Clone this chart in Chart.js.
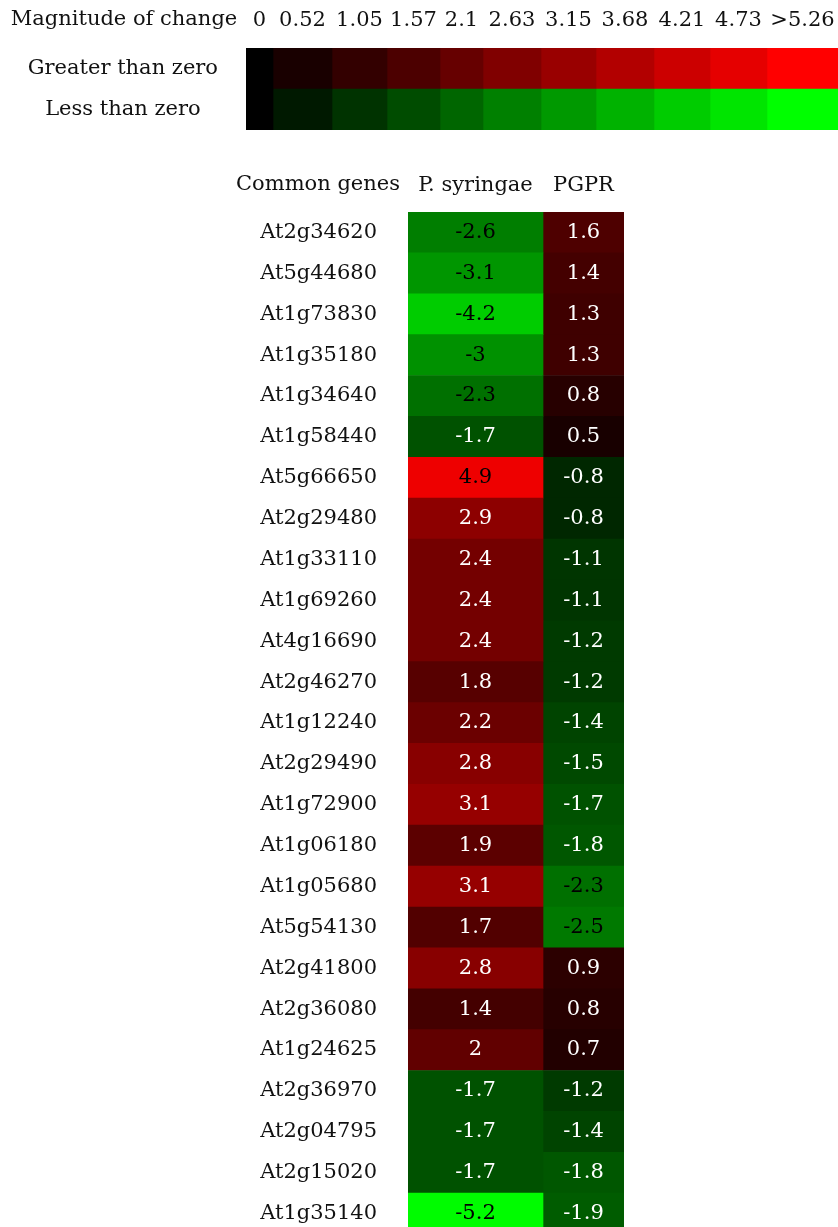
<!DOCTYPE html>
<html>
<head>
<meta charset="utf-8">
<script src="https://cdn.jsdelivr.net/npm/chart.js@4"></script>
<style>
	html, body { margin: 0; padding: 0; background: #fff; overflow: hidden; }
	#legendWrap { position: absolute; left: 0; top: 0; width: 838px; height: 140px; }
	#heatWrap { position: absolute; left: 0; top: 140px; width: 838px; height: 1094px; }
</style>
</head>
<body>
<div id="legendWrap"><canvas id="legendChart"></canvas></div>
<div id="heatWrap"><canvas id="heatChart"></canvas></div>
<script>
"use strict";

// data
const genes = [
	"At2g34620", "At5g44680", "At1g73830", "At1g35180", "At1g34640",
	"At1g58440", "At5g66650", "At2g29480", "At1g33110", "At1g69260",
	"At4g16690", "At2g46270", "At1g12240", "At2g29490", "At1g72900",
	"At1g06180", "At1g05680", "At5g54130", "At2g41800", "At2g36080",
	"At1g24625", "At2g36970", "At2g04795", "At2g15020", "At1g35140",
];
const syringae = [
	-2.6, -3.1, -4.2, -3, -2.3, -1.7, 4.9, 2.9, 2.4, 2.4, 2.4, 1.8, 2.2,
	2.8, 3.1, 1.9, 3.1, 1.7, 2.8, 1.4, 2, -1.7, -1.7, -1.7, -5.2,
];
const pgpr = [
	1.6, 1.4, 1.3, 1.3, 0.8, 0.5, -0.8, -0.8, -1.1, -1.1, -1.2, -1.2, -1.4,
	-1.5, -1.7, -1.8, -2.3, -2.5, 0.9, 0.8, 0.7, -1.2, -1.4, -1.8, -1.9,
];
const columns = ["P. syringae", "PGPR"];
const legendSteps = [0, 0.52, 1.05, 1.57, 2.1, 2.63, 3.15, 3.68, 4.21, 4.73, 5.26];
const legendTicks = ["0", "0.52", "1.05", "1.57", "2.1", "2.63", "3.15", "3.68", "4.21", "4.73", ">5.26"];
const legendRows = ["Greater than zero", "Less than zero"];

// layout / style
const maxChange = 5.26;
const FONT = "'DejaVu Serif', Georgia, serif";
const FSIZE = 21;
const legendWidths = [27, 59, 55, 53, 43, 58, 55, 58, 56, 57, 71];
const columnWidths = [135, 81];

Chart.defaults.font.family = FONT;
Chart.defaults.font.size = FSIZE;
Chart.defaults.color = "#111";
Chart.defaults.animation = false;

function changeColor(v) {
	const c = Math.round(Math.min(1, Math.abs(v) / maxChange) * 255);
	return v >= 0 ? `rgb(${c},0,0)` : `rgb(0,${c},0)`;
}

function textColor(v) {
	const c = Math.min(1, Math.abs(v) / maxChange) * 255;
	const lum = v >= 0 ? 0.299 * c : 0.587 * c;
	return lum > 58 ? "#000" : "#fff";
}

function centers(widths) {
	let acc = 0;
	return widths.map((w) => {
		const c = acc + w / 2;
		acc += w;
		return c;
	});
}

const sum = (a) => a.reduce((s, v) => s + v, 0);

// label column keeps its width, no extra top/bottom padding
const fitLabelAxis = (w) => (scale) => {
	scale.width = w;
	scale.paddingTop = 0;
	scale.paddingBottom = 0;
};

// header row keeps its height, cells run edge to edge
const fitHeaderAxis = (h) => (scale) => {
	scale.height = h;
	scale.paddingLeft = 0;
	scale.paddingRight = 0;
};

// small plugin: corner title + cell values
const cornerTitle = {
	id: "cornerTitle",
	afterDraw(chart, args, opts) {
		const { ctx, scales } = chart;
		const y = scales.y;
		const x = scales.x;
		ctx.save();
		ctx.font = `${FSIZE}px ${FONT}`;
		ctx.fillStyle = "#111";
		ctx.textAlign = "center";
		ctx.textBaseline = "middle";
		ctx.fillText(opts.text, (y.left + y.right) / 2 + opts.dx, x.bottom - opts.offset);
		ctx.restore();
	},
};

const cellValues = {
	id: "cellValues",
	afterDatasetsDraw(chart) {
		const { ctx } = chart;
		ctx.save();
		ctx.font = `${FSIZE}px ${FONT}`;
		ctx.textAlign = "center";
		ctx.textBaseline = "middle";
		chart.data.datasets.forEach((ds, di) => {
			chart.getDatasetMeta(di).data.forEach((bar, i) => {
				const v = ds.values[i];
				const p = bar.getProps(["x", "y", "base"], true);
				ctx.fillStyle = textColor(v);
				ctx.fillText(String(v), (p.x + p.base) / 2, p.y);
			});
		});
		ctx.restore();
	},
};

// legend chart
const legendCenters = centers(legendWidths);
new Chart(document.getElementById("legendChart"), {
	type: "bar",
	data: {
		labels: legendRows,
		datasets: legendSteps.map((s, i) => ({
			data: [legendWidths[i], legendWidths[i]],
			backgroundColor: [changeColor(s), changeColor(-s)],
			borderWidth: 0,
			categoryPercentage: 1,
			barPercentage: 1,
		})),
	},
	options: {
		indexAxis: "y",
		responsive: true,
		maintainAspectRatio: false,
		layout: { padding: { left: 0, right: 0, top: 0, bottom: 10 } },
		plugins: {
			legend: { display: false },
			tooltip: { enabled: false },
			cornerTitle: { text: "Magnitude of change", offset: 28, dx: 1 },
		},
		scales: {
			x: {
				type: "linear",
				position: "top",
				stacked: true,
				min: 0,
				max: sum(legendWidths),
				grid: { display: false, drawTicks: false },
				border: { display: false },
				afterBuildTicks: (scale) => {
					scale.ticks = legendCenters.map((v) => ({ value: v }));
				},
				afterFit: fitHeaderAxis(48),
				ticks: {
					autoSkip: false,
					maxRotation: 0,
					padding: 15,
					callback: (value, index) => legendTicks[index],
				},
			},
			y: {
				stacked: true,
				grid: { display: false, drawTicks: false },
				border: { display: false },
				afterFit: fitLabelAxis(246),
				ticks: { crossAlign: "center", autoSkip: false, padding: 28 },
			},
		},
	},
	plugins: [cornerTitle],
});

// heatmap chart
const colCenters = centers(columnWidths);
const colValues = [syringae, pgpr];
new Chart(document.getElementById("heatChart"), {
	type: "bar",
	data: {
		labels: genes,
		datasets: colValues.map((vals, ci) => ({
			label: columns[ci],
			values: vals,
			data: vals.map(() => columnWidths[ci]),
			backgroundColor: vals.map(changeColor),
			borderWidth: 0,
			categoryPercentage: 1,
			barPercentage: 1,
		})),
	},
	options: {
		indexAxis: "y",
		responsive: true,
		maintainAspectRatio: false,
		layout: { padding: { left: 232, right: 214, top: 0, bottom: 0 } },
		plugins: {
			legend: { display: false },
			tooltip: { enabled: false },
			cornerTitle: { text: "Common genes", offset: 27, dx: -2 },
		},
		scales: {
			x: {
				type: "linear",
				position: "top",
				stacked: true,
				min: 0,
				max: sum(columnWidths),
				grid: { display: false, drawTicks: false },
				border: { display: false },
				afterBuildTicks: (scale) => {
					scale.ticks = colCenters.map((v) => ({ value: v }));
				},
				afterFit: fitHeaderAxis(72),
				ticks: {
					autoSkip: false,
					maxRotation: 0,
					padding: 14,
					callback: (value, index) => columns[index],
				},
			},
			y: {
				stacked: true,
				grid: { display: false, drawTicks: false },
				border: { display: false },
				afterFit: fitLabelAxis(176),
				ticks: { crossAlign: "center", autoSkip: false, padding: 31 },
			},
		},
	},
	plugins: [cornerTitle, cellValues],
});
</script>
</body>
</html>
